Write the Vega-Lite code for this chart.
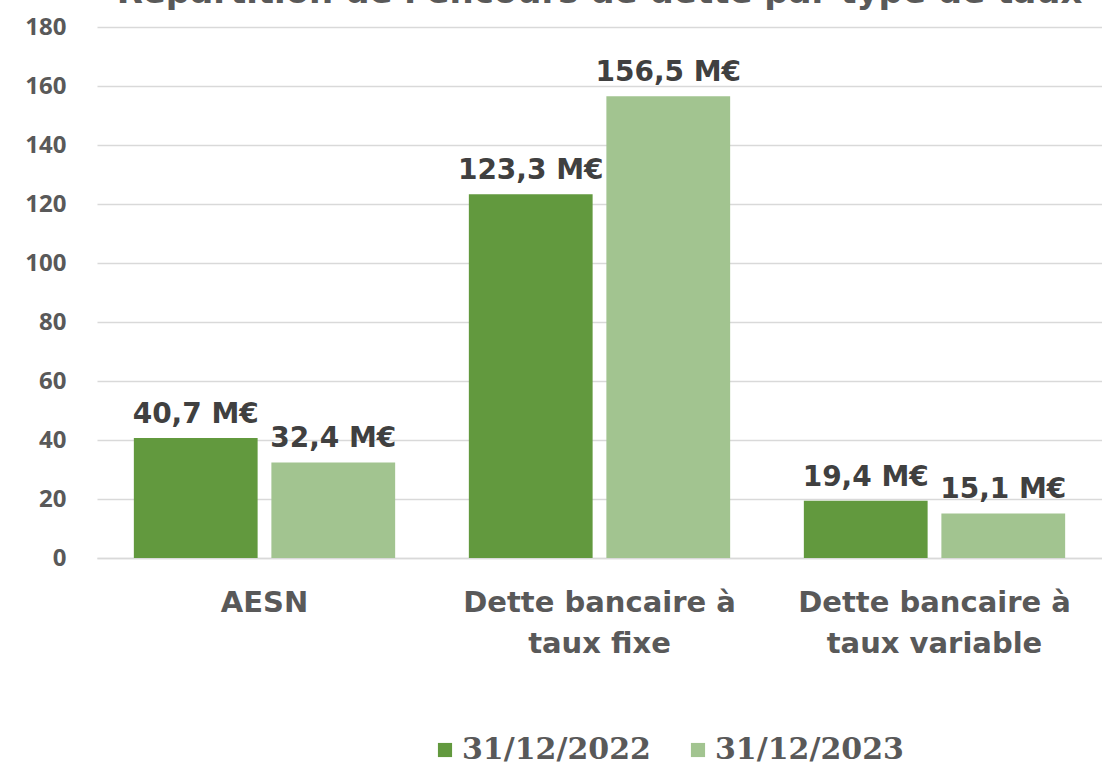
{
  "$schema": "https://vega.github.io/schema/vega-lite/v6.json",
  "width": 1005,
  "height": 531,
  "autosize": {"type": "none"},
  "padding": {"left": 97, "top": 27, "right": 0, "bottom": 207},
  "background": "white",
  "title": {
    "text": "Répartition de l'encours de dette par type de taux",
    "font": "DejaVu Sans",
    "fontSize": 34,
    "fontWeight": "bold",
    "color": "#595959",
    "anchor": "middle",
    "baseline": "alphabetic",
    "offset": 0,
    "dy": 22
  },
  "data": {
    "values": [
      {"categorie": "AESN", "date": "31/12/2022", "valeur": 40.7, "etiquette": "40,7 M€"},
      {"categorie": "AESN", "date": "31/12/2023", "valeur": 32.4, "etiquette": "32,4 M€"},
      {"categorie": "Dette bancaire à taux fixe", "date": "31/12/2022", "valeur": 123.3, "etiquette": "123,3 M€"},
      {"categorie": "Dette bancaire à taux fixe", "date": "31/12/2023", "valeur": 156.5, "etiquette": "156,5 M€"},
      {"categorie": "Dette bancaire à taux variable", "date": "31/12/2022", "valeur": 19.4, "etiquette": "19,4 M€"},
      {"categorie": "Dette bancaire à taux variable", "date": "31/12/2023", "valeur": 15.1, "etiquette": "15,1 M€"}
    ]
  },
  "encoding": {
    "x": {
      "field": "categorie",
      "type": "nominal",
      "sort": null,
      "title": null,
      "scale": {"paddingInner": 0.22, "paddingOuter": 0.11},
      "axis": {
        "labelAngle": 0,
        "labelFont": "DejaVu Sans",
        "labelFontSize": 29,
        "labelFontWeight": "bold",
        "labelColor": "#595959",
        "labelPadding": 30,
        "labelLineHeight": 41,
        "labelBaseline": "top",
        "labelLimit": 400,
        "ticks": false,
        "domain": true,
        "domainColor": "#d9d9d9",
        "domainWidth": 1.5,
        "labelExpr": "indexof(datum.value, ' taux') > 0 ? [substring(datum.value, 0, indexof(datum.value, ' taux')), substring(datum.value, indexof(datum.value, ' taux') + 1)] : datum.value"
      }
    },
    "xOffset": {"field": "date", "type": "nominal", "scale": {"paddingInner": 0.1}},
    "y": {
      "field": "valeur",
      "type": "quantitative",
      "title": null,
      "scale": {"domain": [0, 180], "nice": false},
      "axis": {
        "values": [0, 20, 40, 60, 80, 100, 120, 140, 160, 180],
        "labelFont": "Noto Sans",
        "labelFontSize": 24,
        "labelFontWeight": "bold",
        "labelColor": "#595959",
        "labelPadding": 31,
        "ticks": false,
        "domain": false,
        "grid": true,
        "gridColor": "#d9d9d9",
        "gridWidth": 1.5
      }
    }
  },
  "layer": [
    {
      "mark": {"type": "bar"},
      "encoding": {
        "color": {
          "field": "date",
          "type": "nominal",
          "scale": {"domain": ["31/12/2022", "31/12/2023"], "range": ["#62993e", "#a2c490"]},
          "legend": {
            "title": null,
            "orient": "none",
            "direction": "horizontal",
            "legendX": 333,
            "legendY": 708,
            "symbolType": "square",
            "symbolSize": 200,
            "symbolStrokeWidth": 0,
            "labelFont": "DejaVu Serif",
            "labelFontSize": 30,
            "labelFontWeight": "bold",
            "labelColor": "#595959",
            "labelOffset": 2,
            "columnPadding": 32,
            "labelLimit": 400
          }
        }
      }
    },
    {
      "mark": {
        "type": "text",
        "baseline": "alphabetic",
        "dy": -15,
        "font": "DejaVu Sans",
        "fontSize": 28,
        "fontWeight": "bold",
        "color": "#404040"
      },
      "encoding": {
        "text": {"field": "etiquette", "type": "nominal"}
      }
    }
  ],
  "config": {"view": {"stroke": null}}
}
